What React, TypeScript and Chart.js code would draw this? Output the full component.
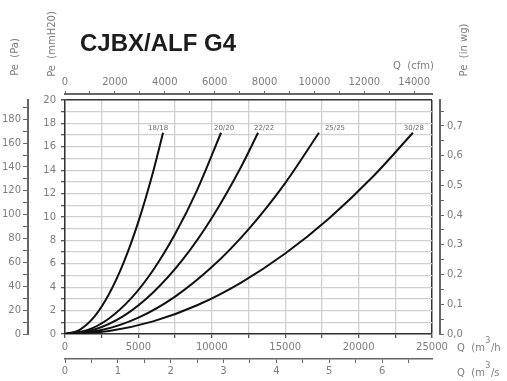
import React, { useEffect, useRef } from 'react';
import { Chart, registerables } from 'chart.js';

Chart.register(...registerables);

// ---- data (flow in m³/h, pressure in mmH2O) ----
const chartTitle = 'CJBX/ALF G4';
const curveNames = ['18/18', '20/20', '22/22', '25/25', '30/28'];
const q18 = [0, 1000, 2000, 3000, 4000, 5000, 6000, 6680];
const pe18 = [0, 0.36, 1.48, 3.42, 6.12, 9.6, 13.85, 17.2];
const q20 = [0, 1500, 3000, 4500, 6000, 7500, 9000, 10630];
const pe20 = [0, 0.32, 1.33, 3.04, 5.45, 8.54, 12.3, 17.2];
const q22 = [0, 2000, 4000, 6000, 8000, 10000, 12000, 13150];
const pe22 = [0, 0.38, 1.55, 3.55, 6.33, 9.92, 14.3, 17.2];
const q25 = [0, 2500, 5000, 7500, 10000, 12500, 15000, 17300];
const pe25 = [0, 0.34, 1.4, 3.2, 5.72, 8.95, 12.9, 17.2];
const q30 = [0, 3000, 6000, 9000, 12000, 15000, 18000, 21000, 23700];
const pe30 = [0, 0.26, 1.08, 2.46, 4.4, 6.88, 9.9, 13.48, 17.2];
const curveFlows = [q18, q20, q22, q25, q30];
const curvePressures = [pe18, pe20, pe22, pe25, pe30];

// tick values of the companion axes
const cfmTicks = [0, 1000, 2000, 3000, 4000, 5000, 6000, 7000, 8000, 9000, 10000, 11000, 12000, 13000, 14000];
const cfmLabels = [0, 2000, 4000, 6000, 8000, 10000, 12000, 14000];
const m3sTicks = [0, 0.5, 1, 1.5, 2, 2.5, 3, 3.5, 4, 4.5, 5, 5.5, 6, 6.5];
const m3sLabels = [0, 1, 2, 3, 4, 5, 6];
const paTicks = [0, 10, 20, 30, 40, 50, 60, 70, 80, 90, 100, 110, 120, 130, 140, 150, 160, 170, 180, 190];
const paLabels = [0, 20, 40, 60, 80, 100, 120, 140, 160, 180];
const inwgTicks = [0, 0.05, 0.1, 0.15, 0.2, 0.25, 0.3, 0.35, 0.4, 0.45, 0.5, 0.55, 0.6, 0.65, 0.7, 0.75];
const inwgLabels = ['0,0', '0,1', '0,2', '0,3', '0,4', '0,5', '0,6', '0,7'];
const m3hLabelStep = 5000;
const mmLabelStep = 2;

const M3H_MAX = 25000;
const MM_MAX = 20;
const CFM_PER_M3H = 1 / 1.699011;
const PA_PER_MM = 9.80665;
const MM_PER_INWG = 25.4;

// label nudges (styling only)
const labelDx = [-5, 3, 6, 16, 1];

const GRAY_TXT = '#7d7d7d';
const TICK_FONT = { family: '"DejaVu Sans", sans-serif', size: 10 };

const near = (a: number, b: number) => Math.abs(a - b) < 1e-6;

const textPlugin = {
  id: 'texts',
  afterDatasetsDraw(chart: any) {
    const ctx = chart.ctx as CanvasRenderingContext2D;
    const xs = chart.scales.x;
    const ys = chart.scales.y;
    ctx.save();
    ctx.font = '7px "DejaVu Sans", sans-serif';
    ctx.fillStyle = '#6a6a6a';
    ctx.textAlign = 'center';
    ctx.textBaseline = 'middle';
    chart.data.datasets.forEach((ds: any, i: number) => {
      const last = ds.data[ds.data.length - 1];
      const px = xs.getPixelForValue(last.x);
      const py = ys.getPixelForValue(last.y);
      ctx.fillText(curveNames[i], px + labelDx[i], py - 5);
    });
    ctx.restore();
  },
  afterDraw(chart: any) {
    const ctx = chart.ctx as CanvasRenderingContext2D;
    ctx.save();
    ctx.fillStyle = '#1c1c1c';
    ctx.font = 'bold 24px "Liberation Sans", Arial, sans-serif';
    ctx.textAlign = 'left';
    ctx.textBaseline = 'middle';
    ctx.fillText(chartTitle, 80, 44);

    ctx.fillStyle = GRAY_TXT;
    ctx.font = '10px "DejaVu Sans", sans-serif';
    const rot = (t: string, x: number, y: number) => {
      ctx.save();
      ctx.translate(x, y);
      ctx.rotate(-Math.PI / 2);
      ctx.textAlign = 'center';
      ctx.textBaseline = 'middle';
      ctx.fillText(t, 0, 0);
      ctx.restore();
    };
    rot('Pe  (Pa)', 15, 57);
    rot('Pe  (mmH20)', 52, 44);
    rot('Pe  (in wg)', 464, 50);

    ctx.textAlign = 'left';
    ctx.textBaseline = 'middle';
    ctx.fillText('Q  (cfm)', 393, 66);
    const unit = (pre: string, post: string, x: number, y: number) => {
      ctx.font = '10px "DejaVu Sans", sans-serif';
      ctx.fillText(pre, x, y);
      const w = ctx.measureText(pre).width;
      ctx.font = '8px "DejaVu Sans", sans-serif';
      ctx.fillText('3', x + w + 0.5, y - 7);
      const w3 = ctx.measureText('3').width;
      ctx.font = '10px "DejaVu Sans", sans-serif';
      ctx.fillText(post, x + w + w3 + 1, y);
    };
    unit('Q  (m', '/h', 457, 348);
    unit('Q  (m', '/s', 457, 373);
    ctx.restore();
  },
};

const fixedTicks = (vals: number[]) => (s: any) => {
  s.ticks = vals.map((v) => ({ value: v }));
};

export default function App() {
  const ref = useRef<HTMLCanvasElement | null>(null);

  useEffect(() => {
    document.body.style.margin = '0';
    const canvas = ref.current;
    if (!canvas) return;

    const datasets = curveNames.map((name, i) => ({
      label: name,
      data: curveFlows[i].map((q, j) => ({ x: q, y: curvePressures[i][j] })),
      borderColor: '#111111',
      borderWidth: 2,
      pointRadius: 0,
      fill: false,
      cubicInterpolationMode: 'monotone' as const,
    }));

    const darkIf = (v: number, edge: number[]) => (edge.includes(v) ? '#333333' : '#d0d0d0');

    const chart = new Chart(canvas, {
      type: 'line',
      data: { datasets },
      plugins: [textPlugin],
      options: {
        animation: false,
        responsive: false,
        devicePixelRatio: 1,
        layout: { padding: { top: 74, left: 0, right: 0, bottom: 0 } },
        plugins: { legend: { display: false }, title: { display: false }, tooltip: { enabled: false } },
        scales: {
          x: {
            type: 'linear', position: 'bottom', weight: 0, min: 0, max: M3H_MAX,
            ticks: {
              stepSize: 2500, color: GRAY_TXT, font: TICK_FONT, padding: 3, maxRotation: 0, autoSkip: false,
              callback: (v: any) => (Number(v) % m3hLabelStep === 0 ? String(v) : ''),
            },
            grid: {
              color: (c: any) => darkIf(c.tick?.value, [M3H_MAX]),
              lineWidth: (c: any) => (c.tick?.value === M3H_MAX ? 1.5 : 1.3),
              tickLength: 4, tickColor: '#555555',
            },
            border: { color: '#333333', width: 1.5 },
            afterFit: (s: any) => { s.height = 25; },
          } as any,
          ms: {
            type: 'linear', position: 'bottom', weight: 1, min: 0, max: M3H_MAX / 3600,
            afterBuildTicks: fixedTicks(m3sTicks),
            ticks: {
              color: GRAY_TXT, font: TICK_FONT, padding: 2, maxRotation: 0, autoSkip: false,
              callback: (v: any) => (m3sLabels.some((l) => near(l, Number(v))) ? String(Math.round(Number(v))) : ''),
            },
            grid: { drawOnChartArea: false, tickLength: 4, color: '#666666', tickColor: '#666666' },
            border: { color: '#666666', width: 1.5 },
            afterFit: (s: any) => { s.height = 22; },
          } as any,
          gapTop: {
            type: 'linear', position: 'top', weight: 0, display: true,
            ticks: { display: false }, grid: { display: false }, border: { display: false },
            afterFit: (s: any) => { s.height = 6; },
          } as any,
          cfm: {
            type: 'linear', position: 'top', weight: 1, min: 0, max: M3H_MAX * CFM_PER_M3H,
            afterBuildTicks: fixedTicks(cfmTicks),
            ticks: {
              color: GRAY_TXT, font: TICK_FONT, padding: 3, maxRotation: 0, autoSkip: false,
              callback: (v: any) => (cfmLabels.includes(Number(v)) ? String(v) : ''),
            },
            grid: { drawOnChartArea: false, tickLength: 3, color: '#666666', tickColor: '#666666' },
            border: { color: '#666666', width: 2 },
            afterFit: (s: any) => { s.height = 20; },
          } as any,
          y: {
            type: 'linear', position: 'left', weight: 0, min: 0, max: MM_MAX,
            ticks: {
              stepSize: 1, color: GRAY_TXT, font: TICK_FONT, padding: 5, autoSkip: false,
              callback: (v: any) => (Number(v) % mmLabelStep === 0 ? String(v) : ''),
            },
            grid: {
              color: (c: any) => darkIf(c.tick?.value, [MM_MAX]),
              lineWidth: (c: any) => (c.tick?.value === MM_MAX ? 1.5 : 1.3),
              tickLength: 4, tickColor: '#555555',
            },
            border: { color: '#333333', width: 1.5 },
            afterFit: (s: any) => { s.width = 37; },
          } as any,
          pa: {
            type: 'linear', position: 'left', weight: 1, min: 0, max: MM_MAX * PA_PER_MM,
            afterBuildTicks: fixedTicks(paTicks),
            ticks: {
              color: GRAY_TXT, font: TICK_FONT, padding: 2, autoSkip: false,
              callback: (v: any) => (paLabels.includes(Number(v)) ? String(v) : ''),
            },
            grid: { drawOnChartArea: false, tickLength: 5, color: '#666666', tickColor: '#666666' },
            border: { color: '#666666', width: 2 },
            afterFit: (s: any) => { s.width = 28; },
          } as any,
          gapRight: {
            type: 'linear', position: 'right', weight: 0, display: true,
            ticks: { display: false }, grid: { display: false }, border: { display: false },
            afterFit: (s: any) => { s.width = 8; },
          } as any,
          inwg: {
            type: 'linear', position: 'right', weight: 1, min: 0, max: MM_MAX / MM_PER_INWG,
            afterBuildTicks: fixedTicks(inwgTicks),
            ticks: {
              color: GRAY_TXT, font: TICK_FONT, padding: 3, autoSkip: false,
              callback: (v: any, i: number) => {
                const n = Math.round(Number(v) * 100);
                return n % 10 === 0 ? inwgLabels[n / 10] : '';
              },
            },
            grid: { drawOnChartArea: false, tickLength: 4, color: '#666666', tickColor: '#666666' },
            border: { color: '#666666', width: 2 },
            afterFit: (s: any) => { s.width = 67; },
          } as any,
        },
      },
    });

    return () => chart.destroy();
  }, []);

  return (
    <div style={{ width: 507, height: 381 }}>
      <canvas ref={ref} width={507} height={381} style={{ display: 'block' }} />
    </div>
  );
}
